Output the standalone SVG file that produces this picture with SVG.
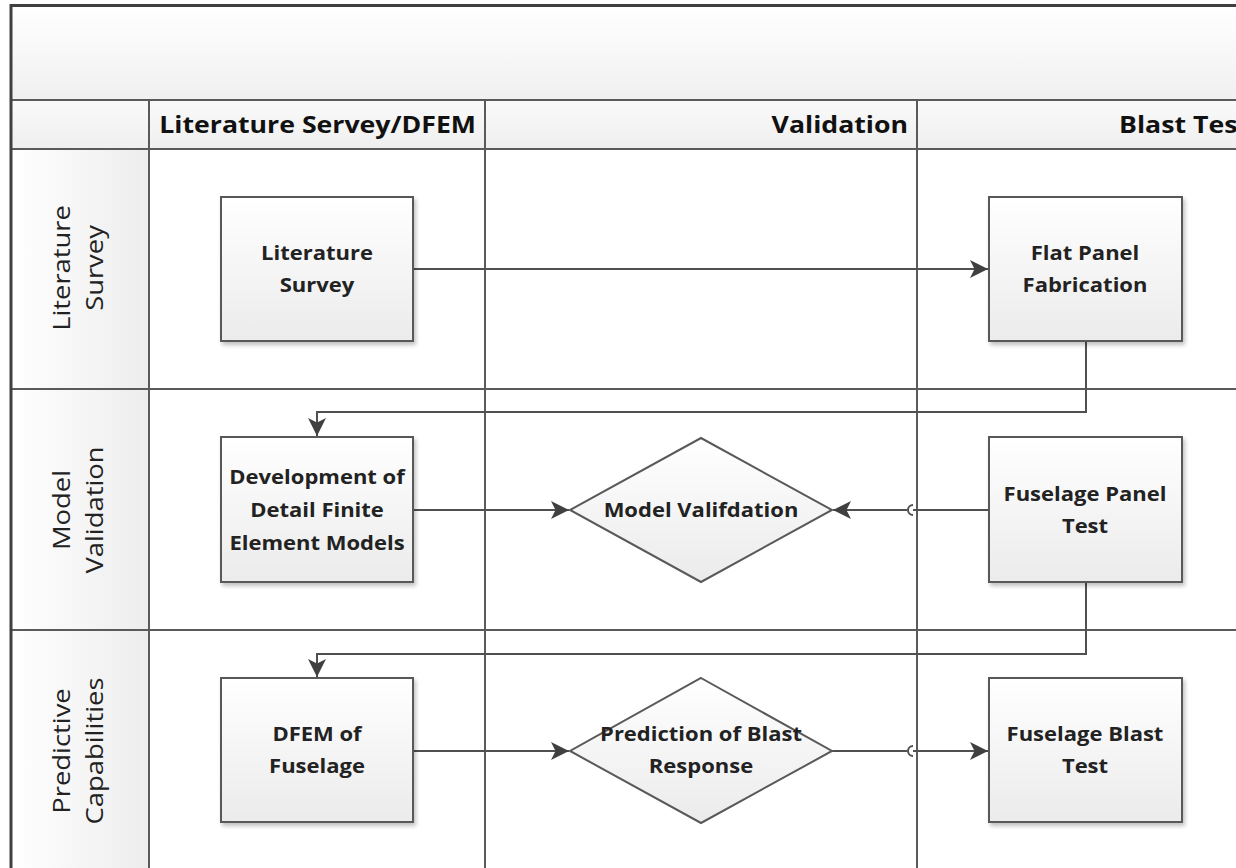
<svg xmlns="http://www.w3.org/2000/svg" width="1236" height="868" viewBox="0 0 1236 868">
<defs>
<linearGradient id="gTitle" x1="0" y1="0" x2="0" y2="1"><stop offset="0" stop-color="#ffffff"/><stop offset="1" stop-color="#f0f0f0"/></linearGradient>
<linearGradient id="gHead" x1="0" y1="0" x2="0" y2="1"><stop offset="0" stop-color="#fafafa"/><stop offset="1" stop-color="#efefef"/></linearGradient>
<linearGradient id="gLane" x1="0" y1="0" x2="1" y2="0"><stop offset="0" stop-color="#ffffff"/><stop offset="1" stop-color="#ededed"/></linearGradient>
<linearGradient id="gBox" x1="0" y1="0" x2="0" y2="1"><stop offset="0" stop-color="#ffffff"/><stop offset="1" stop-color="#ebebeb"/></linearGradient>
<filter id="sh" x="-10%" y="-10%" width="130%" height="130%"><feGaussianBlur in="SourceAlpha" stdDeviation="2"/><feOffset dx="2" dy="3"/><feComponentTransfer><feFuncA type="linear" slope="0.25"/></feComponentTransfer><feMerge><feMergeNode/><feMergeNode in="SourceGraphic"/></feMerge></filter>
<marker id="arr" viewBox="0 0 10 10" refX="10" refY="5" markerWidth="18" markerHeight="18" markerUnits="userSpaceOnUse" orient="auto"><path d="M0,0 L10,5 L0,10 L2.5,5 Z" fill="#404040"/></marker>
</defs>
<style>
.grid{stroke:#5a5a5a;stroke-width:2;fill:none}
.frame{stroke:#404040;stroke-width:3;fill:none}
.box{fill:url(#gBox);stroke:#595959;stroke-width:2;filter:url(#sh)}
.dia{fill:url(#gBox);stroke:#595959;stroke-width:2}
.con{stroke:#505050;stroke-width:2;fill:none}
.hd{font-family:"Open Sans","Liberation Sans",sans-serif;font-weight:bold;font-size:23px;fill:#111}
.lane{font-family:"Open Sans","Liberation Sans",sans-serif;font-size:23px;fill:#222;text-anchor:middle}
.bt{font-family:"Open Sans","Liberation Sans",sans-serif;font-weight:bold;font-size:20px;fill:#222;text-anchor:middle}
</style>
<rect width="1236" height="868" fill="#ffffff"/>
<g id="pool">
<rect x="10" y="5" width="1240" height="95" fill="url(#gTitle)"/>
<rect x="10" y="100" width="1240" height="49" fill="url(#gHead)"/>
<rect x="10" y="149" width="139" height="730" fill="url(#gLane)"/>
<line class="grid" x1="10" y1="100" x2="1236" y2="100"/>
<line class="grid" x1="10" y1="149" x2="1236" y2="149"/>
<line class="grid" x1="10" y1="389" x2="1236" y2="389"/>
<line class="grid" x1="10" y1="630" x2="1236" y2="630"/>
<line class="grid" x1="149" y1="100" x2="149" y2="868"/>
<line class="grid" x1="485" y1="100" x2="485" y2="868"/>
<line class="grid" x1="917" y1="100" x2="917" y2="868"/>
<path class="frame" d="M11,868 V5.5 H1236"/>
<text class="hd" transform="translate(476,133) scale(1.16,1)" text-anchor="end">Literature Servey/DFEM</text>
<text class="hd" transform="translate(908,133) scale(1.16,1)" text-anchor="end">Validation</text>
<text class="hd" transform="translate(1249,133) scale(1.16,1)" text-anchor="end">Blast Test</text>
<text class="lane" transform="translate(70,268) rotate(-90) scale(1.19,1)">Literature</text>
<text class="lane" transform="translate(103,268) rotate(-90) scale(1.19,1)">Survey</text>
<text class="lane" transform="translate(70,510) rotate(-90) scale(1.19,1)">Model</text>
<text class="lane" transform="translate(103,510) rotate(-90) scale(1.19,1)">Validation</text>
<text class="lane" transform="translate(70,751) rotate(-90) scale(1.19,1)">Predictive</text>
<text class="lane" transform="translate(103,751) rotate(-90) scale(1.19,1)">Capabilities</text>
</g>
<g id="connectors">
<line class="con" x1="413" y1="269" x2="988" y2="269" marker-end="url(#arr)"/>
<polyline class="con" points="1086,341 1086,412 317,412 317,436" marker-end="url(#arr)"/>
<line class="con" x1="413" y1="510" x2="569" y2="510" marker-end="url(#arr)"/>
<path class="con" d="M989,510 H913 M907,510 H833" marker-end="url(#arr)"/>
<path class="con" d="M913,505 A5,5 0 0 0 913,515" stroke-width="2.5"/>
<polyline class="con" points="1086,582 1086,654 317,654 317,677" marker-end="url(#arr)"/>
<line class="con" x1="413" y1="751" x2="569" y2="751" marker-end="url(#arr)"/>
<path class="con" d="M832,751 H907 M913,751 H988" marker-end="url(#arr)"/>
<path class="con" d="M913,746 A5,5 0 0 0 913,756" stroke-width="2.5"/>
</g>
<g id="n-litsurvey"><rect class="box" x="221" y="197" width="192" height="144"/><text class="bt" transform="translate(317,260) scale(1.1,1)">Literature</text><text class="bt" transform="translate(317,292) scale(1.1,1)">Survey</text></g>
<g id="n-flatpanel"><rect class="box" x="989" y="197" width="193" height="144"/><text class="bt" transform="translate(1085,260) scale(1.1,1)">Flat Panel</text><text class="bt" transform="translate(1085,292) scale(1.1,1)">Fabrication</text></g>
<g id="n-dev"><rect class="box" x="221" y="437" width="192" height="145"/><text class="bt" transform="translate(317,484) scale(1.1,1)">Development of</text><text class="bt" transform="translate(317,517) scale(1.1,1)">Detail Finite</text><text class="bt" transform="translate(317,550) scale(1.1,1)">Element Models</text></g>
<g id="n-modelval"><polygon class="dia" points="701,438 832,510 701,582 570,510"/><text class="bt" transform="translate(701,517) scale(1.1,1)">Model Valifdation</text></g>
<g id="n-fuspanel"><rect class="box" x="989" y="437" width="193" height="145"/><text class="bt" transform="translate(1085,501) scale(1.1,1)">Fuselage Panel</text><text class="bt" transform="translate(1085,533) scale(1.1,1)">Test</text></g>
<g id="n-dfem"><rect class="box" x="221" y="678" width="192" height="144"/><text class="bt" transform="translate(317,741) scale(1.1,1)">DFEM of</text><text class="bt" transform="translate(317,773) scale(1.1,1)">Fuselage</text></g>
<g id="n-predict"><polygon class="dia" points="701,678 832,751 701,823 570,751"/><text class="bt" transform="translate(701,741) scale(1.1,1)">Prediction of Blast</text><text class="bt" transform="translate(701,773) scale(1.1,1)">Response</text></g>
<g id="n-fusblast"><rect class="box" x="989" y="678" width="193" height="144"/><text class="bt" transform="translate(1085,741) scale(1.1,1)">Fuselage Blast</text><text class="bt" transform="translate(1085,773) scale(1.1,1)">Test</text></g>
</svg>
